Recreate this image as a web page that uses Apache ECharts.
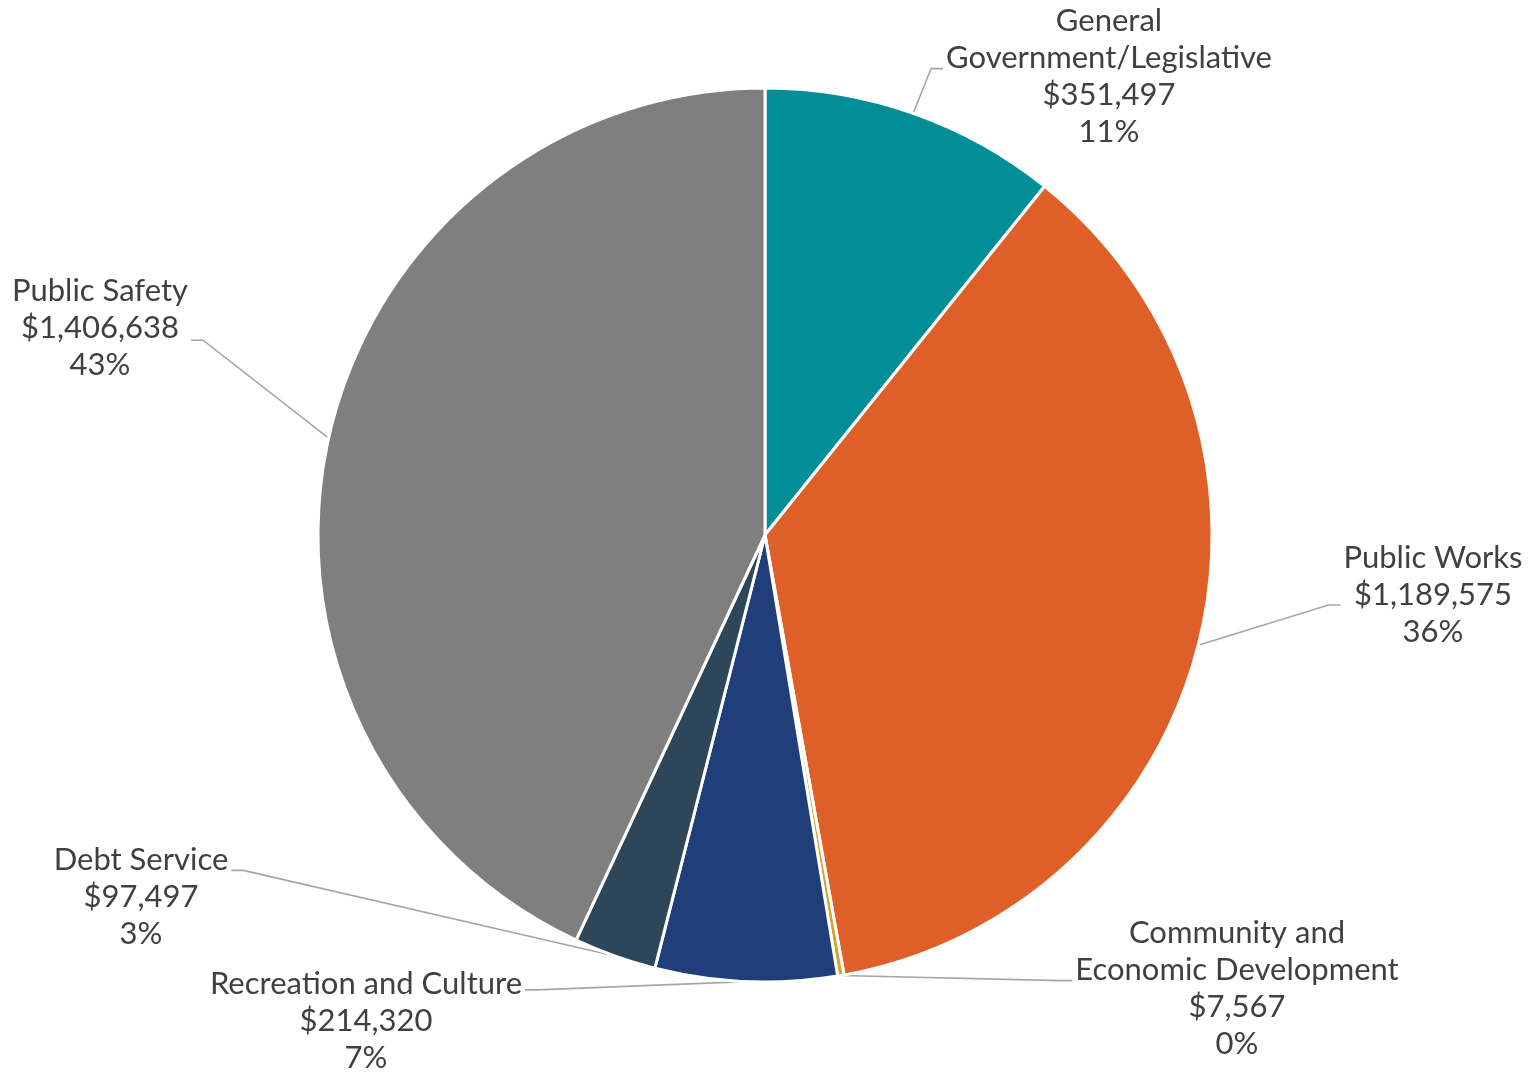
<!DOCTYPE html>
<html><head><meta charset="utf-8">
<script src="https://cdn.jsdelivr.net/npm/echarts@6/dist/echarts.min.js"></script>
<style>html,body{margin:0;padding:0;background:#fff}#c{width:1536px;height:1073px}</style>
</head><body><div id="c"></div>
<script>
const categories = ['General\nGovernment/Legislative', 'Public Works', 'Community and\nEconomic Development', 'Recreation and Culture', 'Debt Service', 'Public Safety'];
const values = [351497, 1189575, 7567, 214320, 97497, 1406638];
const colors = ['#028E96', '#DE5F28', '#D9A032', '#203F7A', '#2E4659', '#7F7F7F'];
// label placement (styling only)
const labelCenters = [[1109, 76], [1433, 595], [1237, 988], [366, 1021], [141, 897], [100, 328]];
const attachFrac = [0.45, 0.59, 0.45, 0.22, 0.26, 0.61];

const chart = echarts.init(document.getElementById('c'), null, {renderer: 'canvas'});
const data = categories.map((n, i) => ({name: n, value: values[i], itemStyle: {color: colors[i]}}));

chart.setOption({
  animation: false,
  backgroundColor: '#ffffff',
  series: [{
    type: 'pie',
    center: [765, 535],
    radius: 447,
    startAngle: 90,
    clockwise: true,
    avoidLabelOverlap: false,
    percentPrecision: 0,
    emphasis: {disabled: true},
    itemStyle: {borderColor: '#ffffff', borderWidth: 3},
    label: {
      show: true,
      fontFamily: 'Lato',
      fontSize: 31,
      lineHeight: 37,
      color: '#404040',
      formatter: p => p.name + '\n$' + p.value.toLocaleString('en-US') + '\n' + p.percent + '%'
    },
    labelLine: {show: true, length: 20, length2: 10, lineStyle: {color: '#A6A6A6', width: 1.6}},
    labelLayout: function (p) {
      const i = p.dataIndex;
      const cx = labelCenters[i][0], cy = labelCenters[i][1];
      const w = p.labelRect.width, h = p.labelRect.height;
      const start = p.labelLinePoints ? p.labelLinePoints[0] : [765, 535];
      const right = cx > start[0];
      const ex = right ? cx - w / 2 - 3 : cx + w / 2 + 3;
      const ey = cy - h / 2 + h * attachFrac[i];
      const bx = right ? ex - 12 : ex + 12;
      return {
        x: cx, y: cy, align: 'center', verticalAlign: 'middle',
        labelLinePoints: [start, [bx, ey], [ex, ey]]
      };
    },
    data: data
  }]
});
</script>
</body></html>
